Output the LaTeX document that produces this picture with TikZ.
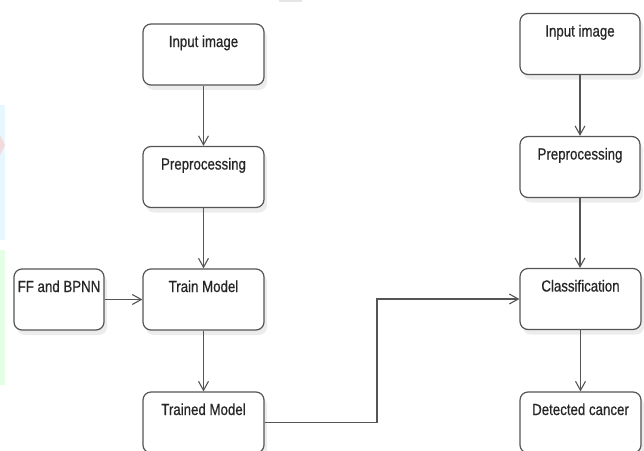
\documentclass[tikz,border=0pt]{standalone}
\usepackage{fontspec}
\setmainfont{Liberation Sans}[FakeStretch=0.83,FakeBold=0.6]
\usetikzlibrary{arrows.meta,shadows}
\definecolor{linec}{HTML}{555555}
\definecolor{txtc}{HTML}{262626}
\begin{document}
\begin{tikzpicture}[x=1pt,y=-1pt,
  stepbox/.style={draw=linec, line width=1.2pt, rounded corners=8pt, fill=white,
    minimum width=121pt, inner sep=0pt, text height=23pt, text depth=38pt,
    font=\fontsize{16pt}{18pt}\selectfont, text=txtc,
    drop shadow={shadow xshift=3pt, shadow yshift=-5pt, fill=black!12, opacity=0.6, draw=none}},
  conn/.style={draw=linec, line width=1.1pt, -{Straight Barb[length=9pt,width=10pt,line width=1.1pt]}}]
\useasboundingbox (0,0) rectangle (644,450);
% faint background artifacts on the left edge
\fill[cyan!10] (0,105) rectangle (5,240);
\fill[red!25,opacity=0.5] (0,135) -- (5,145) -- (0,155) -- cycle;
\fill[green!10] (0,250) rectangle (5,385);
\fill[black!10] (279,0) rectangle (302,2);
% left column
\node[stepbox] (in1) at (203.5,54.5) {Input image};
\node[stepbox] (pre1) at (203.5,177) {Preprocessing};
\node[stepbox] (train) at (203.5,299.5) {Train Model};
\node[stepbox] (trained) at (203.5,422.5) {Trained Model};
\node[stepbox, minimum width=90pt] (ff) at (59,299.5) {FF and BPNN};
% right column
\node[stepbox, minimum width=120pt] (in2) at (580,44) {Input image};
\node[stepbox, minimum width=120pt] (pre2) at (580,167) {Preprocessing};
\node[stepbox] (cls) at (580.5,299) {Classification};
\node[stepbox] (det) at (580.5,422.5) {Detected cancer};
\coordinate (mid) at (377,0);
% connectors
\draw[conn] (in1) -- (pre1);
\draw[conn] (pre1) -- (train);
\draw[conn] (train) -- (trained);
\draw[conn] (ff) -- (train);
\draw[conn] (in2.south) -- (in2.south |- pre2.north);
\draw[conn] (pre2.south) -- (pre2.south |- cls.north);
\draw[conn] (cls) -- (det);
\draw[conn] (trained.east) -- (trained.east -| mid) -- (mid |- cls.west) -- (cls.west);
\end{tikzpicture}
\end{document}
